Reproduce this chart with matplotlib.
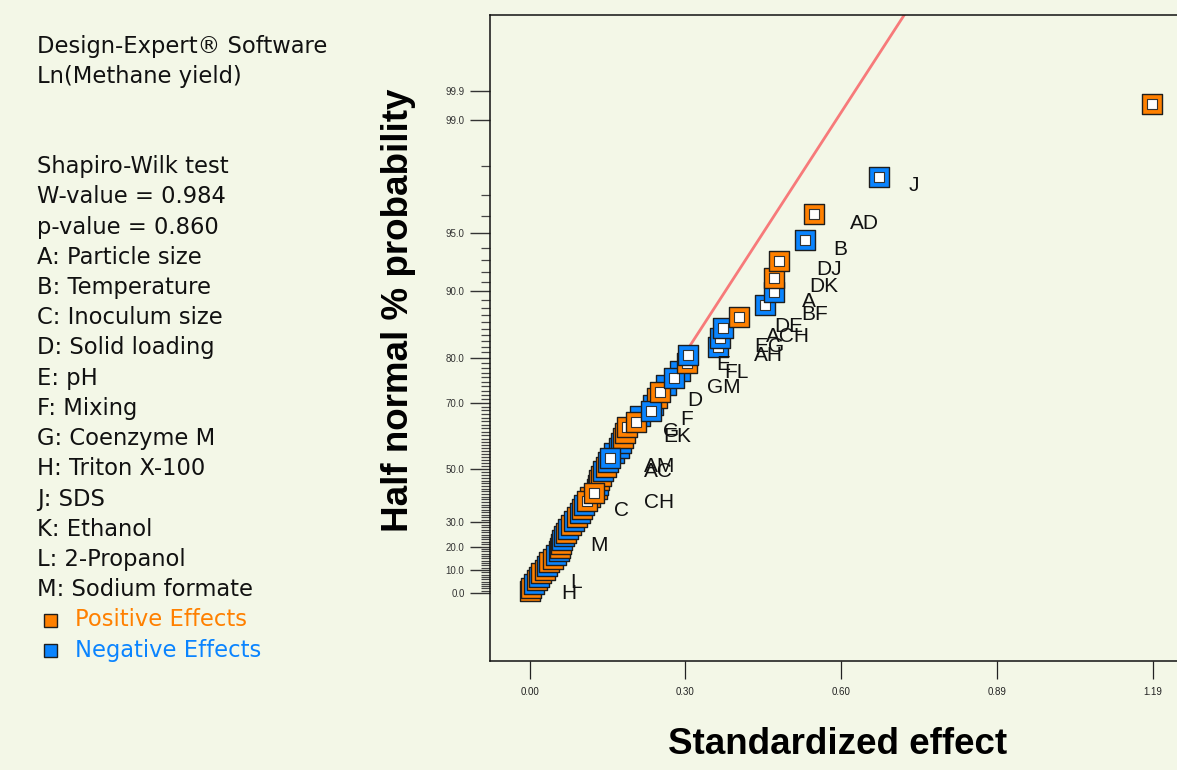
import matplotlib
matplotlib.use('Agg')
import numpy as np
import matplotlib.pyplot as plt
from statistics import NormalDist

BG = '#F3F7E7'
ORANGE = '#FF8000'
BLUE = '#0A84FF'
EDGE = '#1E1E1E'

# ranked absolute effects (smallest -> largest)
effects = [0.000, 0.003, 0.008, 0.014, 0.018, 0.022, 0.029, 0.033, 0.037, 0.044,
           0.050, 0.056, 0.058, 0.060, 0.062, 0.066, 0.069, 0.073, 0.079, 0.085,
           0.090, 0.096, 0.100, 0.104, 0.109, 0.115, 0.123, 0.128, 0.130, 0.132,
           0.136, 0.140, 0.146, 0.150, 0.153, 0.161, 0.171, 0.174, 0.178, 0.182,
           0.186, 0.203, 0.211, 0.232, 0.236, 0.243, 0.249, 0.260, 0.276, 0.287,
           0.300, 0.302, 0.360, 0.363, 0.369, 0.400, 0.449, 0.467, 0.467, 0.476,
           0.526, 0.543, 0.667, 1.189]

# half-normal probability (%) for each rank
prob_pct = [0.78, 2.34, 3.91, 5.47, 7.03, 8.59, 10.16, 11.72, 13.28, 14.84,
            16.41, 17.97, 19.53, 21.09, 22.66, 24.22, 25.78, 27.34, 28.91, 30.47,
            32.03, 33.59, 35.16, 36.72, 38.28, 39.84, 41.41, 42.97, 44.53, 46.09,
            47.66, 49.22, 50.78, 52.34, 53.91, 55.47, 57.03, 58.59, 60.16, 61.72,
            63.28, 64.84, 66.41, 67.97, 69.53, 71.09, 72.66, 74.22, 75.78, 77.34,
            78.91, 80.47, 82.03, 83.59, 85.16, 86.72, 88.28, 89.84, 91.41, 92.97,
            94.53, 96.09, 97.66, 99.22]

# 1 = positive effect, 0 = negative effect
positive = [1, 1, 0, 1, 0, 1, 1, 0, 1, 1,
            0, 0, 1, 1, 0, 0, 1, 0, 1, 0,
            1, 0, 1, 0, 1, 1, 1, 1, 0, 1,
            1, 0, 1, 0, 0, 0, 0, 0, 1, 1,
            1, 1, 0, 0, 0, 1, 1, 0, 0, 0,
            1, 0, 0, 0, 0, 1, 0, 0, 1, 1,
            0, 1, 0, 1]

# labelled terms, by rank index (0-based)
term_labels = {62: 'J', 61: 'AD', 60: 'B', 59: 'DJ', 58: 'DK', 57: 'A', 56: 'BF',
               55: 'DE', 54: 'ACH', 53: 'EG', 52: 'AH', 51: 'E', 50: 'FL',
               48: 'GM', 46: 'D', 43: 'F', 41: 'G', 40: 'EK', 34: 'AM', 33: 'AC',
               26: 'CH', 24: 'C', 15: 'M', 5: 'L', 2: 'H'}
# terms drawn hollow (selected in the model)
model_terms = (set(term_labels) - {15, 5, 2}) | {63}

fit_slope = 4.4            # reference line: z = slope * effect
fit_x = [0.0, 0.75]

xtick_vals = [0.0, 0.2975, 0.595, 0.8925, 1.19]
xtick_text = ['0.00', '0.30', '0.60', '0.89', '1.19']
ytick_vals = [0, 10, 20, 30, 50, 70, 80, 90, 95, 99, 99.37]
ytick_text = ['0.0', '10.0', '20.0', '30.0', '50.0', '70.0', '80.0', '90.0',
              '95.0', '99.0', '99.9']
yminor_vals = [p for p in range(1, 99) if p not in ytick_vals]

info_lines = ['Design-Expert® Software', 'Ln(Methane yield)', '',
              'Shapiro-Wilk test', 'W-value = 0.984', 'p-value = 0.860',
              'A: Particle size', 'B: Temperature', 'C: Inoculum size',
              'D: Solid loading', 'E: pH', 'F: Mixing', 'G: Coenzyme M',
              'H: Triton X-100', 'J: SDS', 'K: Ethanol', 'L: 2-Propanol',
              'M: Sodium formate']

nd = NormalDist()


def pct_to_z(p):
    p = np.asarray(p, dtype=float)
    q = np.clip(np.abs(p) / 100.0, 0.0, 0.999999)
    z = np.array([nd.inv_cdf(0.5 + v / 2.0) for v in q.ravel()]).reshape(q.shape)
    return np.sign(p) * z


def z_to_pct(z):
    z = np.asarray(z, dtype=float)
    c = np.array([nd.cdf(v) for v in np.abs(z).ravel()]).reshape(z.shape)
    return np.sign(z) * (2.0 * c - 1.0) * 100.0


W, H = 1177, 770
fig = plt.figure(figsize=(W / 100, H / 100), dpi=100, facecolor=BG)
ax = fig.add_axes([489.5 / W, 1 - 661 / H, 1 - 489.5 / W + 0.01, (661 - 15) / H])
ax.set_facecolor(BG)
ax.set_yscale('function', functions=(pct_to_z, z_to_pct))
ax.set_xlim(-0.0768, 1.2363 + 0.0101 * 1177 / 523.6)
ax.set_ylim(float(z_to_pct(-0.370)), float(z_to_pct(3.148)))

# reference line
line_x = np.array(fit_x)
ax.plot(line_x, z_to_pct(fit_slope * line_x), color='#F77A7A', lw=2.0, zorder=1)

# points, drawn smallest first; model terms above the error terms
for i, (x, p) in enumerate(zip(effects, prob_pct)):
    col = ORANGE if positive[i] else BLUE
    base = 3 if i in model_terms else 2
    ax.scatter([x], [p], marker='s', s=195, color=col, edgecolors=EDGE,
               linewidths=1.0, zorder=base + i * 0.01, clip_on=False)
    if i in model_terms:
        ax.scatter([x], [p], marker='s', s=58, color='white', edgecolors='#333333',
                   linewidths=0.8, zorder=base + 0.005 + i * 0.01)
    if i in term_labels:
        lab = term_labels[i]
        dx = 20 + 15 * len(lab) + (15 if lab == 'CH' else 0)
        ax.annotate(lab, (x, p), xytext=(dx, -9), textcoords='offset pixels',
                    ha='center', va='center', fontsize=15,
                    family='Liberation Sans', color='#111111', zorder=5)

ax.set_xticks(xtick_vals)
ax.set_xticklabels(xtick_text)
ax.set_yticks(ytick_vals)
ax.set_yticklabels(ytick_text)
ax.set_yticks(yminor_vals, minor=True)
ax.tick_params(axis='x', direction='out', length=13, width=0.9, pad=6,
               labelsize=7, colors='#222222')
ax.tick_params(axis='y', which='major', direction='out', length=14.5, width=1.0,
               pad=3.5, labelsize=7, colors='#333333')
ax.tick_params(axis='y', which='minor', direction='out', length=6.5, width=0.9,
               colors='#444444')
for lab in ax.get_xticklabels() + ax.get_yticklabels():
    lab.set_family('Liberation Sans')
for side in ('left', 'top', 'bottom'):
    ax.spines[side].set_color('#111111')
    ax.spines[side].set_linewidth(1.1)
ax.spines['right'].set_visible(False)

# axis titles
fig.text(398 / W, 1 - 310 / H, 'Half normal % probability', rotation=90,
         ha='center', va='center', fontsize=26.5, fontweight='bold',
         family='Liberation Sans')
fig.text(838 / W, 1 - 745 / H, 'Standardized effect', ha='center', va='center',
         fontsize=26.5, fontweight='bold', family='Liberation Sans')

# info panel
for k, txt in enumerate(info_lines):
    if txt:
        fig.text(37 / W, 1 - (46 + 30.2 * (k if k < 2 else k + 1)) / H, txt,
                 ha='left', va='center', fontsize=16.3, family='DejaVu Sans',
                 color='#111111')

for k, (txt, col) in enumerate([('Positive Effects', ORANGE), ('Negative Effects', BLUE)]):
    yy = 1 - (620 + 30.2 * k) / H
    fig.patches.append(plt.Rectangle((44 / W, yy - 6.5 / H), 13 / W, 13 / H,
                                     transform=fig.transFigure, facecolor=col,
                                     edgecolor=EDGE, lw=1.0))
    fig.text(75 / W, yy, txt, ha='left', va='center', fontsize=16.3,
             family='DejaVu Sans', color=col)

fig.savefig('out.png', dpi=100, facecolor=BG)
